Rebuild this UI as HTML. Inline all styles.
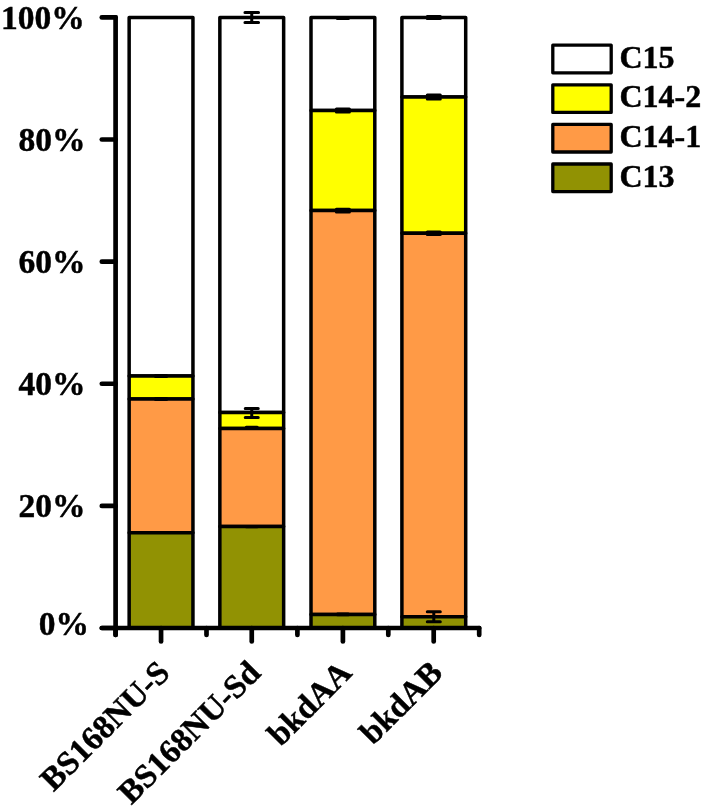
<!DOCTYPE html>
<html><head><meta charset="utf-8"><title>chart</title>
<style>
html,body{margin:0;padding:0;background:#fff;}
body{width:704px;height:809px;overflow:hidden;}
svg{display:block;}
text{stroke:#000;stroke-width:0.45px;font-family:"Liberation Serif","Times New Roman",serif;font-weight:bold;fill:#000;}
</style></head><body>
<svg width="704" height="809" viewBox="0 0 704 809">
<rect width="704" height="809" fill="#fff"/>

<g stroke="#000" stroke-width="3.5" stroke-linejoin="round">
<rect x="129.15" y="17.4" width="63.80" height="358.60" fill="#fff"/>
<rect x="129.15" y="376.00" width="63.80" height="23.00" fill="#ffff00"/>
<rect x="129.15" y="399.00" width="63.80" height="133.70" fill="#ff9a46"/>
<rect x="129.15" y="532.70" width="63.80" height="95.30" fill="#919203"/>
</g>
<g stroke="#000" stroke-width="3.5" stroke-linejoin="round">
<rect x="219.85" y="17.4" width="63.80" height="395.20" fill="#fff"/>
<rect x="219.85" y="412.60" width="63.80" height="15.80" fill="#ffff00"/>
<rect x="219.85" y="428.40" width="63.80" height="98.20" fill="#ff9a46"/>
<rect x="219.85" y="526.60" width="63.80" height="101.40" fill="#919203"/>
</g>
<g stroke="#000" stroke-width="3.5" stroke-linejoin="round">
<rect x="311.00" y="17.4" width="63.80" height="93.10" fill="#fff"/>
<rect x="311.00" y="110.50" width="63.80" height="100.10" fill="#ffff00"/>
<rect x="311.00" y="210.60" width="63.80" height="404.00" fill="#ff9a46"/>
<rect x="311.00" y="614.60" width="63.80" height="13.40" fill="#919203"/>
</g>
<g stroke="#000" stroke-width="3.5" stroke-linejoin="round">
<rect x="401.90" y="17.4" width="63.80" height="79.50" fill="#fff"/>
<rect x="401.90" y="96.90" width="63.80" height="136.30" fill="#ffff00"/>
<rect x="401.90" y="233.20" width="63.80" height="383.60" fill="#ff9a46"/>
<rect x="401.90" y="616.80" width="63.80" height="11.20" fill="#919203"/>
</g>
<g stroke="#000" stroke-width="3" stroke-linecap="round" fill="none">
<path d="M155.55 375.60H166.55M155.55 376.40H166.55M161.05 375.60V376.40"/>
<path d="M155.55 398.60H166.55M155.55 399.40H166.55M161.05 398.60V399.40"/>
<path d="M244.95 12.40H258.55M244.95 22.40H258.55M251.75 12.40V22.40"/>
<path d="M245.25 408.40H258.25M245.25 417.60H258.25M251.75 408.40V417.60"/>
<path d="M246.25 427.30H257.25M246.25 428.10H257.25M251.75 427.30V428.10"/>
<path d="M246.25 526.40H257.25M246.25 526.80H257.25M251.75 526.40V526.80"/>
<path d="M337.40 18.00H348.40M337.40 18.60H348.40M342.90 18.00V18.60"/>
<path d="M336.40 109.00H349.40M336.40 112.00H349.40M342.90 109.00V112.00"/>
<path d="M336.40 209.20H349.40M336.40 212.00H349.40M342.90 209.20V212.00"/>
<path d="M337.40 614.00H348.40M337.40 614.80H348.40M342.90 614.00V614.80"/>
<path d="M427.30 16.40H440.30M427.30 18.40H440.30M433.80 16.40V18.40"/>
<path d="M427.30 94.90H440.30M427.30 98.90H440.30M433.80 94.90V98.90"/>
<path d="M427.30 232.00H440.30M427.30 234.40H440.30M433.80 232.00V234.40"/>
<path d="M427.30 611.70H440.30M427.30 621.70H440.30M433.80 611.70V621.70"/>
</g>
<g stroke="#000" stroke-width="4.7" stroke-linecap="round" fill="none">
<path d="M115.6 17.4V635"/>
<path d="M101.8 628.0H479.2"/>
<path d="M101.8 628.00H115.6"/>
<path d="M101.8 505.88H115.6"/>
<path d="M101.8 383.76H115.6"/>
<path d="M101.8 261.64H115.6"/>
<path d="M101.8 139.52H115.6"/>
<path d="M101.8 17.40H115.6"/>
<path d="M115.6 628.0V635"/>
<path d="M206.5 628.0V635"/>
<path d="M297.4 628.0V635"/>
<path d="M388.3 628.0V635"/>
<path d="M479.2 628.0V635"/>
<path d="M161.05 628.0V641.5"/>
<path d="M251.75 628.0V641.5"/>
<path d="M342.9 628.0V641.5"/>
<path d="M433.7 628.0V641.5"/>
</g>
<text x="89.0" y="635.00" font-size="33.5" text-anchor="end">0%</text>
<text x="85.6" y="517.48" font-size="33.5" text-anchor="end">20%</text>
<text x="85.6" y="395.36" font-size="33.5" text-anchor="end">40%</text>
<text x="85.6" y="273.24" font-size="33.5" text-anchor="end">60%</text>
<text x="85.6" y="151.12" font-size="33.5" text-anchor="end">80%</text>
<text x="84.8" y="29.00" font-size="33.5" text-anchor="end">100%</text>
<text transform="translate(171.55,674.5) rotate(-45)" font-size="33" text-anchor="end">BS168NU-S</text>
<text transform="translate(262.25,674.5) rotate(-45)" font-size="33" text-anchor="end">BS168NU-Sd</text>
<text transform="translate(353.40,674.5) rotate(-45)" font-size="33" text-anchor="end">bkdAA</text>
<text transform="translate(444.30,674.5) rotate(-45)" font-size="33" text-anchor="end">bkdAB</text>
<rect x="552.8" y="45.20" width="58.4" height="27.6" fill="#fff" stroke="#000" stroke-width="3.3" stroke-linejoin="round"/>
<text x="619.5" y="67.70" font-size="32">C15</text>
<rect x="552.8" y="84.80" width="58.4" height="27.6" fill="#ffff00" stroke="#000" stroke-width="3.3" stroke-linejoin="round"/>
<text x="619.5" y="107.30" font-size="32">C14-2</text>
<rect x="552.8" y="124.40" width="58.4" height="27.6" fill="#ff9a46" stroke="#000" stroke-width="3.3" stroke-linejoin="round"/>
<text x="619.5" y="146.90" font-size="32">C14-1</text>
<rect x="552.8" y="164.00" width="58.4" height="27.6" fill="#919203" stroke="#000" stroke-width="3.3" stroke-linejoin="round"/>
<text x="619.5" y="186.50" font-size="32">C13</text>
</svg></body></html>
